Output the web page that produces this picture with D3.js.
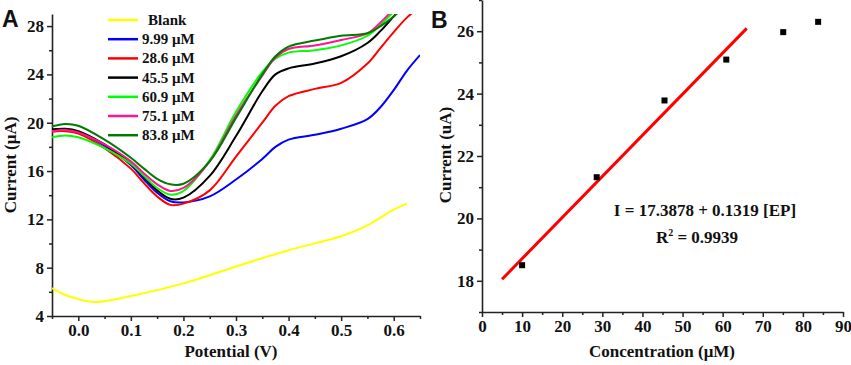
<!DOCTYPE html>
<html>
<head>
<meta charset="utf-8">
<script src="https://cdn.jsdelivr.net/npm/d3@7/dist/d3.min.js"></script>
<style>
  body { margin: 0; background: #fff; }
  svg { display: block; }
  text { font-family: "Liberation Serif", "Times New Roman", serif; font-weight: bold; fill: #111; }
</style>
</head>
<body>
<div id="chart"></div>
<script>
// ---- Panel A: DPV curves ----
const potential = [-0.05, -0.025, 0, 0.05, 0.1, 0.125, 0.15, 0.175, 0.2, 0.25, 0.3, 0.35, 0.375, 0.4, 0.45, 0.5, 0.55, 0.575, 0.6, 0.625, 0.65];
const blankPotential = [-0.05, -0.025, 0, 0.03, 0.1, 0.2, 0.3, 0.4, 0.5, 0.55, 0.6, 0.625];
const blankCurrent = [6.3, 5.74, 5.4, 5.15, 5.65, 6.7, 8.1, 9.45, 10.6, 11.5, 12.8, 13.3];
const current9_99 = [19.4, 19.45, 19.25, 18.1, 16.5, 15.3, 14.2, 13.5, 13.4, 13.9, 15.3, 17.0, 18.0, 18.6, 19.0, 19.5, 20.3, 21.3, 22.7, 24.3, 25.6];
const current28_6 = [19.25, 19.3, 19.1, 17.9, 16.2, 15.0, 13.9, 13.2, 13.3, 14.4, 17.2, 20.0, 21.4, 22.2, 22.8, 23.3, 24.9, 26.2, 27.5, 28.7, 29.6];
const current45_5 = [19.45, 19.5, 19.3, 18.2, 16.6, 15.5, 14.4, 13.7, 13.8, 15.6, 18.9, 22.6, 24.0, 24.5, 24.9, 25.5, 26.6, 27.6, 28.8, 30.0, 31.0];
const current60_9 = [18.8, 18.95, 18.8, 17.9, 16.6, 15.6, 14.6, 14.05, 14.35, 16.9, 20.9, 24.2, 25.3, 25.8, 26.0, 26.4, 27.2, 28.1, 29.2, 30.3, 31.3];
const current75_1 = [19.3, 19.4, 19.2, 18.2, 16.8, 15.8, 14.9, 14.35, 14.6, 16.8, 20.6, 23.9, 25.4, 26.1, 26.4, 26.85, 27.4, 28.3, 29.4, 30.5, 31.5];
const current83_8 = [19.7, 19.9, 19.75, 18.6, 17.1, 16.2, 15.35, 14.9, 14.95, 16.8, 20.4, 24.0, 25.5, 26.3, 26.8, 27.2, 27.4, 28.0, 28.8, 29.8, 30.8];
const legendLabels = ["Blank", "9.99 μM", "28.6 μM", "45.5 μM", "60.9 μM", "75.1 μM", "83.8 μM"];
const seriesColors = ["#ffff00", "#0000ff", "#ff0000", "#000000", "#00ff00", "#ff1493", "#007a00"];
const xTicksA = [0, 0.1, 0.2, 0.3, 0.4, 0.5, 0.6];
const yTicksA = [4, 8, 12, 16, 20, 24, 28];

// ---- Panel B: calibration ----
const concentration = [10, 28.6, 45.5, 60.9, 75.1, 83.8];
const peakCurrent = [18.5, 21.32, 23.78, 25.09, 25.97, 26.3];
const fitConc = [5, 66];
const fitCurrent = [18.05, 26.09];
const xTicksB = [0, 10, 20, 30, 40, 50, 60, 70, 80, 90];
const yTicksB = [18, 20, 22, 24, 26];

const W = 851, H = 365;
const svg = d3.select("#chart").append("svg").attr("width", W).attr("height", H);

function drawAxes(g, x, y, xMajor, xMinor, yMajor, yMinor, xFmt, yFmt) {
  const [x0] = x.range(), [y0] = y.range();
  // minor ticks
  g.append("g").attr("transform", `translate(0,${y0})`)
    .call(d3.axisBottom(x).tickValues(xMinor).tickSize(3).tickFormat(""))
    .call(s => s.select(".domain").remove());
  g.append("g").attr("transform", `translate(${x0},0)`)
    .call(d3.axisLeft(y).tickValues(yMinor).tickSize(3).tickFormat(""))
    .call(s => s.select(".domain").remove());
  const gx = g.append("g").attr("transform", `translate(0,${y0})`)
    .call(d3.axisBottom(x).tickValues(xMajor).tickSize(5).tickSizeOuter(0).tickFormat(xFmt).tickPadding(3));
  const gy = g.append("g").attr("transform", `translate(${x0},0)`)
    .call(d3.axisLeft(y).tickValues(yMajor).tickSize(5).tickSizeOuter(0).tickFormat(yFmt).tickPadding(3));
  [gx, gy].forEach(a => {
    a.selectAll("text").style("font-size", "17px").attr("fill", "#111");
    a.select(".domain").attr("stroke", "#222").attr("stroke-width", 1.6);
  });
  g.selectAll(".tick line").attr("stroke", "#222").attr("stroke-width", 1.5);
}

// ---------- Panel A ----------
const xA = d3.scaleLinear().domain([-0.05, 0.65]).range([52, 420]);
const yA = d3.scaleLinear().domain([4, 29]).range([316, 14]);
const gA = svg.append("g");

svg.append("defs").append("clipPath").attr("id", "clipA")
  .append("rect").attr("x", 52).attr("y", 14).attr("width", 368).attr("height", 302);

drawAxes(gA, xA, yA, xTicksA, [-0.05, 0.05, 0.15, 0.25, 0.35, 0.45, 0.55, 0.65],
  yTicksA, [6, 10, 14, 18, 22, 26], d3.format(".1f"), d3.format("d"));

const lineA = d3.line().x(d => xA(d[0])).y(d => yA(d[1])).curve(d3.curveCatmullRom.alpha(0.5));
const seriesA = [
  blankPotential.map((p, i) => [p, blankCurrent[i]]),
  potential.map((p, i) => [p, current9_99[i]]),
  potential.map((p, i) => [p, current28_6[i]]),
  potential.map((p, i) => [p, current45_5[i]]),
  potential.map((p, i) => [p, current60_9[i]]),
  potential.map((p, i) => [p, current75_1[i]]),
  potential.map((p, i) => [p, current83_8[i]])
];
const curvesG = gA.append("g").attr("clip-path", "url(#clipA)");
curvesG.selectAll("path").data(seriesA).join("path")
  .attr("d", lineA).attr("fill", "none")
  .attr("stroke", (d, i) => seriesColors[i]).attr("stroke-width", 2);

// legend
const leg = gA.append("g");
legendLabels.forEach((lab, i) => {
  const yy = 20 + i * 19.2;
  leg.append("line").attr("x1", 108).attr("x2", 138).attr("y1", yy).attr("y2", yy)
    .attr("stroke", seriesColors[i]).attr("stroke-width", 2.5);
  leg.append("text").attr("x", i === 0 ? 148 : 142).attr("y", yy + 5)
    .style("font-size", "15px").text(lab);
});

gA.append("text").attr("x", 231).attr("y", 357).attr("text-anchor", "middle")
  .style("font-size", "17px").text("Potential (V)");
gA.append("text").attr("transform", "translate(16,165) rotate(-90)").attr("text-anchor", "middle")
  .style("font-size", "17px").text("Current (μA)");
gA.append("text").attr("x", 2).attr("y", 27)
  .style("font-family", "'Liberation Sans', Arial, sans-serif").style("font-size", "23px").text("A");

// ---------- Panel B ----------
const xB = d3.scaleLinear().domain([0, 90]).range([482, 843]);
const yB = d3.scaleLinear().domain([17, 27]).range([312, 0]);
const gB = svg.append("g");

drawAxes(gB, xB, yB, xTicksB, [5, 15, 25, 35, 45, 55, 65, 75, 85], yTicksB, [17, 19, 21, 23, 25, 27],
  d3.format("d"), d3.format("d"));

gB.append("line")
  .attr("x1", xB(fitConc[0])).attr("y1", yB(fitCurrent[0]))
  .attr("x2", xB(fitConc[1])).attr("y2", yB(fitCurrent[1]))
  .attr("stroke", "#ff0000").attr("stroke-width", 3);

gB.selectAll("rect.pt").data(concentration).join("rect").attr("class", "pt")
  .attr("x", d => xB(d) - 3).attr("y", (d, i) => yB(peakCurrent[i]) - 3)
  .attr("width", 6).attr("height", 6).attr("fill", "#000");

gB.append("text").attr("x", 705).attr("y", 216).attr("text-anchor", "middle")
  .style("font-size", "17px").text("I = 17.3878 + 0.1319 [EP]");
const r2 = gB.append("text").attr("x", 697).attr("y", 243).attr("text-anchor", "middle")
  .style("font-size", "17px");
r2.append("tspan").text("R");
r2.append("tspan").attr("dy", -7).style("font-size", "10px").text("2");
r2.append("tspan").attr("dy", 7).text(" = 0.9939");

gB.append("text").attr("x", 662).attr("y", 357).attr("text-anchor", "middle")
  .style("font-size", "17px").text("Concentration (μM)");
gB.append("text").attr("transform", "translate(451,155) rotate(-90)").attr("text-anchor", "middle")
  .style("font-size", "17px").text("Current (uA)");
gB.append("text").attr("x", 431).attr("y", 28)
  .style("font-family", "'Liberation Sans', Arial, sans-serif").style("font-size", "23px").text("B");
</script>
</body>
</html>
